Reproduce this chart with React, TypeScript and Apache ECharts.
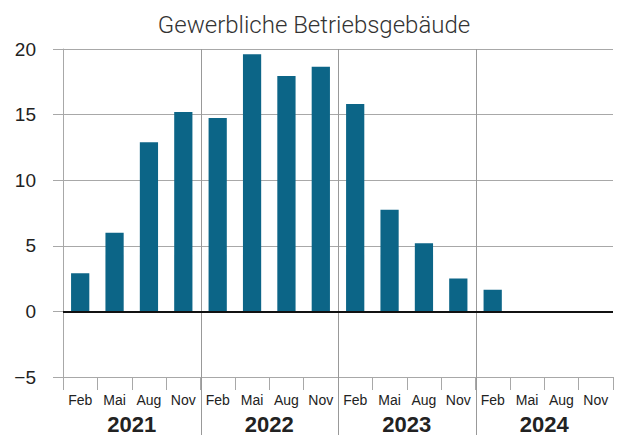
import React, { useEffect, useRef } from "react";
import * as echarts from "echarts";

const categories = [
  "Feb", "Mai", "Aug", "Nov",
  "Feb", "Mai", "Aug", "Nov",
  "Feb", "Mai", "Aug", "Nov",
  "Feb", "Mai", "Aug", "Nov",
];
const years = ["2021", "2022", "2023", "2024"];
const values: (number | null)[] = [
  2.9, 6.0, 12.9, 15.2,
  14.75, 19.6, 17.95, 18.65,
  15.8, 7.75, 5.2, 2.5,
  1.65, null, null, null,
];
const yTicks = { min: -5, max: 20, interval: 5 };

const FONT = "'Liberation Sans', Arial, sans-serif";
const TITLE_FONT = "Roboto, 'Liberation Sans', sans-serif";
const GRID_GREY = "#a8a8a8";

export default function App() {
  const ref = useRef<HTMLDivElement>(null);
  useEffect(() => {
    if (!ref.current) return;
    const chart = echarts.init(ref.current, undefined, { renderer: "svg" });
    chart.setOption({
      animation: false,
      title: {
        text: "Gewerbliche Betriebsgebäude",
        left: "center",
        top: 8,
        textStyle: { fontFamily: TITLE_FONT, fontWeight: 300, fontSize: 24, color: "#333" },
      },
      grid: { left: 63, right: 15, top: 49, bottom: 61, containLabel: false },
      xAxis: [
        {
          type: "category",
          data: categories,
          position: "bottom",
          axisLine: { onZero: false, lineStyle: { color: GRID_GREY, width: 1 } },
          axisTick: { show: true, interval: 0, length: 13, lineStyle: { color: GRID_GREY } },
          axisLabel: { interval: 0, margin: 16, fontFamily: FONT, fontSize: 14, color: "#222" },
          splitLine: { show: false },
        },
        {
          type: "category",
          data: years,
          position: "bottom",
          axisLine: { show: false, onZero: false },
          axisTick: { show: false },
          axisLabel: { margin: 36, fontFamily: FONT, fontSize: 22, fontWeight: "bold", color: "#222" },
          splitLine: { show: false },
        },
      ],
      yAxis: {
        type: "value",
        min: yTicks.min,
        max: yTicks.max,
        interval: yTicks.interval,
        axisLine: { show: true, lineStyle: { color: GRID_GREY } },
        axisTick: { show: true, length: 10, lineStyle: { color: GRID_GREY } },
        axisLabel: {
          margin: 27,
          fontFamily: FONT,
          fontSize: 19,
          color: "#222",
          formatter: (v: number) => (v < 0 ? "\u2212" + Math.abs(v) : String(v)),
        },
        splitLine: { show: true, lineStyle: { color: GRID_GREY, width: 1 } },
      },
      series: [
        {
          type: "bar",
          data: values,
          xAxisIndex: 0,
          barWidth: "53%",
          itemStyle: { color: "#0c6587" },
          markLine: {
            silent: true,
            symbol: "none",
            label: { show: false },
            lineStyle: { color: "#111", width: 2, type: "solid" },
            data: [{ yAxis: 0 }],
          },
          z: 3,
        },
      ],
    });

    const c0 = chart.convertToPixel({ xAxisIndex: 0 }, 0) as number;
    const c1 = chart.convertToPixel({ xAxisIndex: 0 }, 1) as number;
    const band = c1 - c0;
    const top = chart.convertToPixel({ yAxisIndex: 0 }, yTicks.max) as number;
    const bottom = chart.convertToPixel({ yAxisIndex: 0 }, yTicks.min) as number;
    const lines = [1, 2, 3].map((k) => {
      const x = Math.round((chart.convertToPixel({ xAxisIndex: 0 }, k * 4) as number) - band / 2) + 0.5;
      return {
        type: "line",
        shape: { x1: x, y1: top, x2: x, y2: bottom + 58 },
        style: { stroke: "#999", lineWidth: 1 },
        z: 1,
        silent: true,
      };
    });
    chart.setOption({ graphic: lines });

    return () => chart.dispose();
  }, []);
  return <div ref={ref} style={{ width: 628, height: 438, position: "absolute", left: 0, top: 0 }} />;
}
